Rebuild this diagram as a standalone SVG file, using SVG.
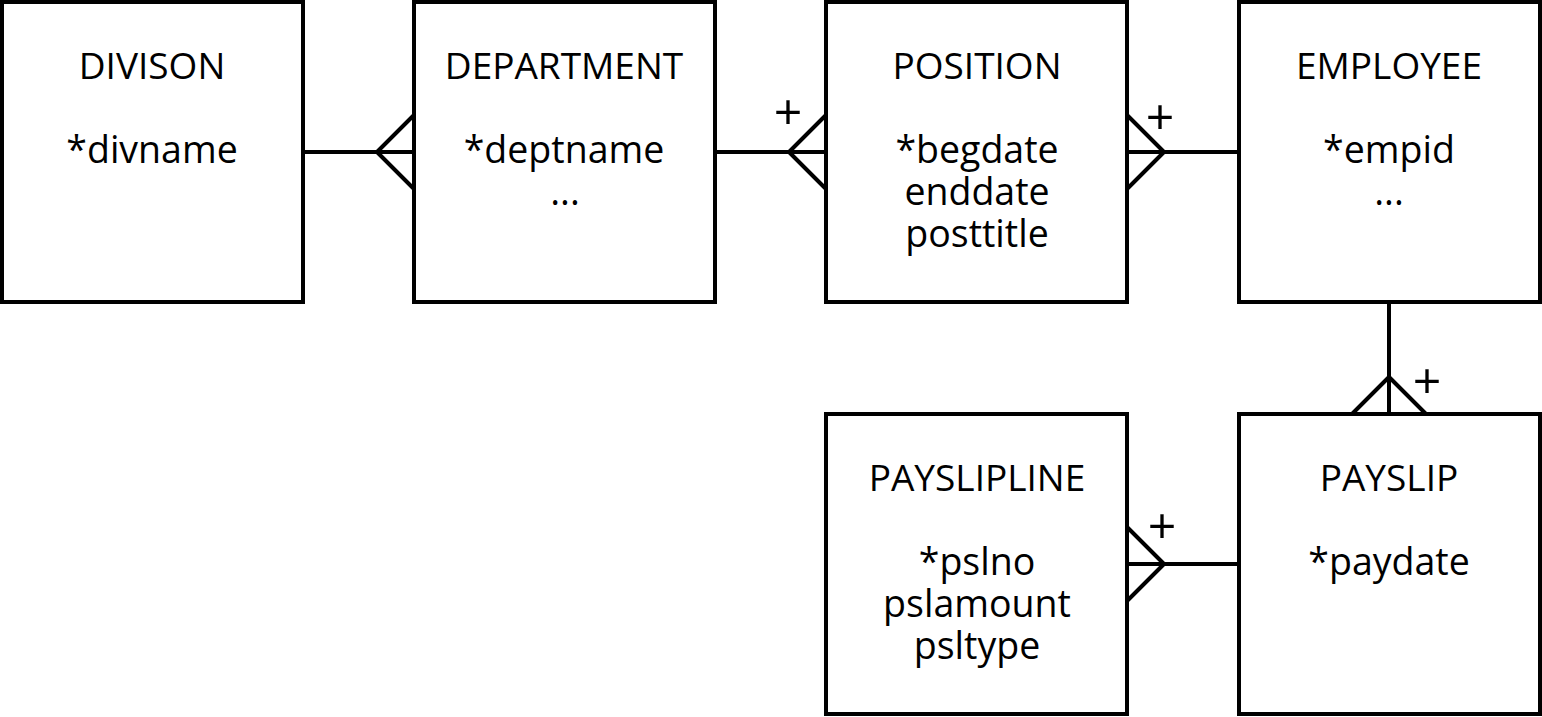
<svg xmlns="http://www.w3.org/2000/svg" width="1542" height="717" viewBox="0 0 1542 717">
<defs>
<style>
.box{fill:#fff;stroke:#000;stroke-width:4}
.ln{fill:none;stroke:#000;stroke-width:4}
.t{font-family:"Open Sans","Liberation Sans",sans-serif;font-size:37px;text-anchor:middle;fill:#000}
.a{font-family:"Open Sans","Liberation Sans",sans-serif;font-size:37.5px;text-anchor:middle;fill:#000}
.p{font-family:"Open Sans","Liberation Sans",sans-serif;font-size:50px;text-anchor:middle;fill:#000}
</style>
</defs>
<rect width="1542" height="717" fill="#fff"/>
<g id="connectors">
<path class="ln" d="M303 152H414M377 152L414 115M377 152L414 189"/>
<path class="ln" d="M715 152H826M789 152L826 115M789 152L826 189"/>
<path class="ln" d="M1127 152H1239M1164 152L1127 115M1164 152L1127 189"/>
<path class="ln" d="M1389 302V414M1389 377L1352 414M1389 377L1426 414"/>
<path class="ln" d="M1127 564H1239M1164 564L1127 527M1164 564L1127 601"/>
<text class="p" x="788" y="130">+</text>
<text class="p" x="1160" y="135">+</text>
<text class="p" x="1427" y="399">+</text>
<text class="p" x="1162" y="544">+</text>
</g>
<g id="divison">
<rect class="box" x="2" y="2" width="301" height="300"/>
<text class="t" x="152" y="79">DIVISON</text>
<text class="a" x="152" y="163">*divname</text>
</g>
<g id="department">
<rect class="box" x="414" y="2" width="301" height="300"/>
<text class="t" x="564" y="79">DEPARTMENT</text>
<text class="a" x="564" y="163">*deptname</text>
<text class="a" x="565" y="205">...</text>
</g>
<g id="position">
<rect class="box" x="826" y="2" width="301" height="300"/>
<text class="t" x="977" y="79">POSITION</text>
<text class="a" x="977" y="163">*begdate</text>
<text class="a" x="977" y="205">enddate</text>
<text class="a" x="977" y="247">posttitle</text>
</g>
<g id="employee">
<rect class="box" x="1239" y="2" width="301" height="300"/>
<text class="t" x="1389" y="79">EMPLOYEE</text>
<text class="a" x="1389" y="163">*empid</text>
<text class="a" x="1389" y="205">...</text>
</g>
<g id="payslipline">
<rect class="box" x="826" y="414" width="301" height="300"/>
<text class="t" x="977" y="491">PAYSLIPLINE</text>
<text class="a" x="977" y="575">*pslno</text>
<text class="a" x="977" y="617">pslamount</text>
<text class="a" x="977" y="659">psltype</text>
</g>
<g id="payslip">
<rect class="box" x="1239" y="414" width="301" height="300"/>
<text class="t" x="1389" y="491">PAYSLIP</text>
<text class="a" x="1389" y="575">*paydate</text>
</g>
</svg>
